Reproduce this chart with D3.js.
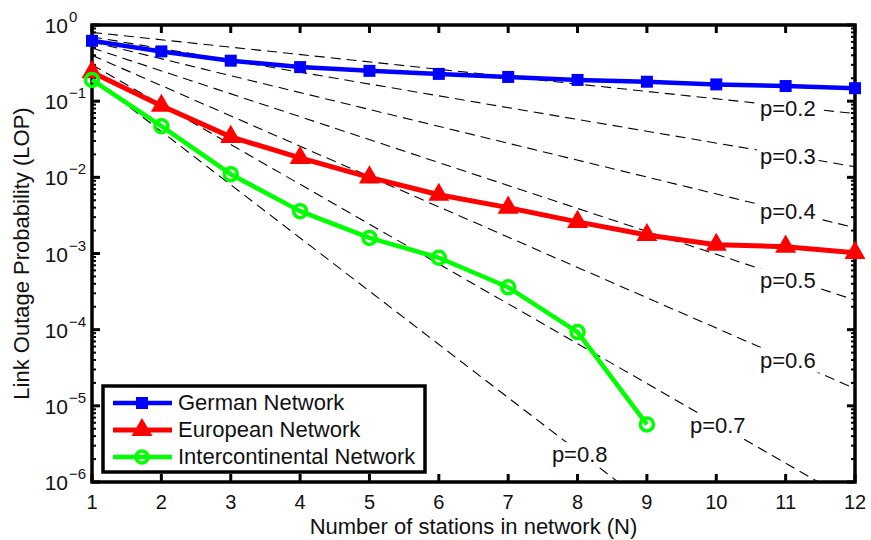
<!DOCTYPE html>
<html>
<head>
<meta charset="utf-8">
<script src="https://cdn.jsdelivr.net/npm/d3@7"></script>
<style>
  body { margin: 0; background: #fff; }
  text { font-family: "Liberation Sans", Arial, sans-serif; fill: #111; }
</style>
</head>
<body>
<div id="container"></div>
<script>
// data
const stations = [1, 2, 3, 4, 5, 6, 7, 8, 9, 10, 11, 12];
const german = [0.62, 0.45, 0.34, 0.28, 0.25, 0.228, 0.208, 0.19, 0.18, 0.166, 0.158, 0.148];
const european = [0.24, 0.087, 0.034, 0.018, 0.010, 0.0059, 0.0040, 0.0026, 0.00175, 0.0013, 0.00123, 0.00102];
const intercontinental = [0.19, 0.047, 0.011, 0.0036, 0.0016, 0.00088, 0.00036, 0.000093, 0.0000057];

// reference dashed lines: value at N=1 and at N=12
const pLabels = ["p=0.2", "p=0.3", "p=0.4", "p=0.5", "p=0.6", "p=0.7", "p=0.8"];
const pStart = [0.8, 0.7, 0.6, 0.5, 0.4, 0.3, 0.2];
const pEnd = [0.0687, 0.0138, 0.00218, 0.000244, 0.0000168, 0.00000053, 0.0000000041];
// where the labels sit (N, LOP)
const pLabelN = [10.63, 10.63, 10.63, 10.63, 10.63, 9.62, 7.63];
const pLabelV = [0.081, 0.019, 0.0036, 0.00044, 0.00004, 0.0000055, 0.0000023];

const yTicks = [1, 1e-1, 1e-2, 1e-3, 1e-4, 1e-5, 1e-6];
const legendNames = ["German Network", "European Network", "Intercontinental Network"];

const W = 871, H = 540;
const m = {left: 92, right: 16, top: 25, bottom: 58};

const svg = d3.select("#container").append("svg")
  .attr("width", W).attr("height", H);

const x = d3.scaleLinear().domain([1, 12]).range([m.left, W - m.right]);
const y = d3.scaleLog().domain([1e-6, 1]).range([H - m.bottom, m.top]);

svg.append("clipPath").attr("id", "clip")
  .append("rect")
  .attr("x", m.left).attr("y", m.top)
  .attr("width", W - m.right - m.left).attr("height", H - m.bottom - m.top);

// dashed guide lines
const guide = d3.line().x(d => x(d[0])).y(d => y(d[1]));
const guideG = svg.append("g").attr("clip-path", "url(#clip)");
pStart.forEach((v, i) => {
  guideG.append("path")
    .attr("d", guide([[1, v], [12, pEnd[i]]]))
    .attr("fill", "none")
    .attr("stroke", "#000")
    .attr("stroke-width", 1.1)
    .attr("stroke-dasharray", "10,6");
});
pLabels.forEach((t, i) => {
  let lbl = guideG.append("text")
    .attr("x", x(pLabelN[i])).attr("y", y(pLabelV[i]))
    .attr("dy", "0.35em")
    .attr("font-size", 22)
    .text(t);
  let bb = lbl.node().getBBox();
  guideG.insert("rect", "text")
    .attr("x", bb.x - 3).attr("y", bb.y)
    .attr("width", bb.width + 6).attr("height", bb.height)
    .attr("fill", "#fff");
});
// put labels above the white boxes
guideG.selectAll("text").raise();

// axes box and ticks
const axG = svg.append("g").attr("stroke", "#000");
const bottomY = y(1e-6), topY = y(1);
const leftX = x(1), rightX = x(12);

stations.forEach(n => {
  axG.append("line").attr("x1", x(n)).attr("x2", x(n))
    .attr("y1", bottomY).attr("y2", bottomY - 8).attr("stroke-width", 3);
  axG.append("line").attr("x1", x(n)).attr("x2", x(n))
    .attr("y1", topY).attr("y2", topY + 8).attr("stroke-width", 3);
});
for (let e = 0; e > -6; e--) {
  for (let k = 2; k < 10; k++) {
    let v = k * Math.pow(10, e - 1);
    [[leftX, 4], [rightX, -4]].forEach(([xx, len]) => {
      axG.append("line").attr("x1", xx).attr("x2", xx + len)
        .attr("y1", y(v)).attr("y2", y(v)).attr("stroke-width", 2);
    });
  }
}
yTicks.forEach(v => {
  axG.append("line").attr("x1", leftX).attr("x2", leftX + 8)
    .attr("y1", y(v)).attr("y2", y(v)).attr("stroke-width", 3);
  axG.append("line").attr("x1", rightX).attr("x2", rightX - 8)
    .attr("y1", y(v)).attr("y2", y(v)).attr("stroke-width", 3);
});
axG.append("rect")
  .attr("x", leftX).attr("y", topY)
  .attr("width", rightX - leftX).attr("height", bottomY - topY)
  .attr("fill", "none").attr("stroke-width", 3.5);

// tick labels
svg.append("g").selectAll("text")
  .data(stations).join("text")
  .attr("x", d => x(d)).attr("y", bottomY + 27)
  .attr("text-anchor", "middle")
  .attr("font-size", 20)
  .text(d => d);

svg.append("g").selectAll("text")
  .data(yTicks).join("text")
  .attr("x", 68).attr("y", d => y(d) + 8)
  .attr("text-anchor", "end")
  .attr("font-size", 21)
  .text("10");
svg.append("g").selectAll("text")
  .data(yTicks).join("text")
  .attr("x", 69).attr("y", d => y(d) - 3)
  .attr("font-size", 15)
  .text(d => {
    let e = Math.round(Math.log10(d));
    return e < 0 ? "\u2212" + (-e) : String(e);
  });

svg.append("text")
  .attr("x", (leftX + rightX) / 2).attr("y", 534)
  .attr("text-anchor", "middle")
  .attr("font-size", 22)
  .text("Number of stations in network (N)");
svg.append("text")
  .attr("transform", `translate(29, ${(topY + bottomY) / 2}) rotate(-90)`)
  .attr("text-anchor", "middle")
  .attr("font-size", 22)
  .text("Link Outage Probability (LOP)");

// series
const line = d3.line().x((d, i) => x(stations[i])).y(d => y(d));
const sym = {
  square: d3.symbol().type(d3.symbolSquare).size(144),
  triangle: d3.symbol().type(d3.symbolTriangle).size(190)
};
const seriesG = svg.append("g");
function drawSeries(vals, color, width, marker) {
  seriesG.append("path")
    .attr("d", line(vals))
    .attr("fill", "none")
    .attr("stroke", color)
    .attr("stroke-width", width)
    .attr("stroke-linejoin", "round");
  vals.forEach((v, i) => {
    drawMarker(x(stations[i]), y(v), color, marker);
  });
}
function drawMarker(cx, cy, color, marker) {
  if (marker === "circle") {
    seriesG.append("circle")
      .attr("cx", cx).attr("cy", cy).attr("r", 6.5)
      .attr("fill", "none").attr("stroke", color).attr("stroke-width", 3.5);
  } else {
    seriesG.append("path")
      .attr("d", sym[marker]())
      .attr("transform", `translate(${cx},${cy})`)
      .attr("fill", color);
  }
}
drawSeries(german, "#0000ff", 4.5, "square");
drawSeries(european, "#ff0000", 5, "triangle");
drawSeries(intercontinental, "#00ff00", 4.5, "circle");

// legend
const leg = svg.append("g");
leg.append("rect")
  .attr("x", 103).attr("y", 386)
  .attr("width", 322).attr("height", 86)
  .attr("fill", "#fff").attr("stroke", "#000").attr("stroke-width", 3.5);
const legColors = ["#0000ff", "#ff0000", "#00ff00"];
const legMarkers = ["square", "triangle", "circle"];
const legWidths = [4.5, 5, 4.5];
legendNames.forEach((name, i) => {
  let ly = 403 + i * 27;
  leg.append("line")
    .attr("x1", 113).attr("x2", 172).attr("y1", ly).attr("y2", ly)
    .attr("stroke", legColors[i]).attr("stroke-width", legWidths[i]);
  let mk = legMarkers[i];
  if (mk === "circle") {
    leg.append("circle").attr("cx", 142).attr("cy", ly).attr("r", 6)
      .attr("fill", "none").attr("stroke", legColors[i]).attr("stroke-width", 3.5);
  } else {
    leg.append("path").attr("d", sym[mk]())
      .attr("transform", `translate(142,${ly})`).attr("fill", legColors[i]);
  }
  leg.append("text")
    .attr("x", 178).attr("y", ly + 7)
    .attr("font-size", 22)
    .text(name);
});
</script>
</body>
</html>
